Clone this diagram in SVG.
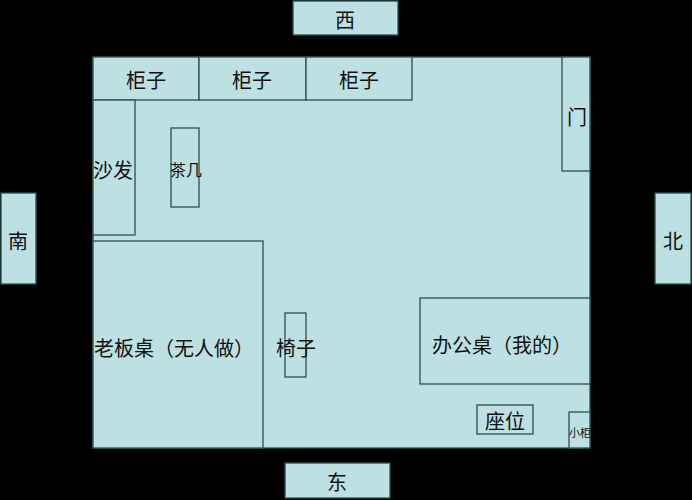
<svg xmlns="http://www.w3.org/2000/svg" width="692" height="500" viewBox="0 0 692 500">
<style>
rect{fill:#bde0e3;stroke:#2f4f4f;stroke-width:1.3}
text{font-family:"Noto Sans CJK SC","Noto Sans CJK TC",sans-serif;fill:#111;font-size:20px;text-anchor:middle;dominant-baseline:central}
</style>
<rect x="0" y="0" width="692" height="500" style="fill:#000;stroke:none"/>
<g id="west"><rect x="293" y="1" width="105" height="34"/><text x="345" y="19">西</text></g>
<g id="south"><rect x="1" y="193" width="35" height="91"/><text x="18" y="240">南</text></g>
<g id="north"><rect x="655" y="193" width="36" height="91"/><text x="673" y="240">北</text></g>
<g id="east"><rect x="285" y="463" width="105" height="35"/><text x="337" y="481">东</text></g>
<g id="room"><rect x="93" y="57" width="497" height="391"/></g>
<g id="cab1"><rect x="93" y="57" width="106" height="43"/><text x="146" y="79">柜子</text></g>
<g id="cab2"><rect x="199" y="57" width="107" height="43"/><text x="252" y="79">柜子</text></g>
<g id="cab3"><rect x="306" y="57" width="106" height="43"/><text x="359" y="79">柜子</text></g>
<g id="door"><rect x="562" y="57" width="28" height="114"/><text x="577" y="116">门</text></g>
<g id="sofa"><rect x="93" y="100" width="42" height="135"/><text x="113" y="169">沙发</text></g>
<g id="tea"><rect x="171" y="128" width="28" height="79"/><text x="186" y="169" style="font-size:16px">茶几</text></g>
<g id="boss"><rect x="93" y="241" width="170" height="207"/><text x="174" y="347">老板桌（无人做）</text></g>
<g id="chair"><rect x="285" y="313" width="21" height="64"/><text x="296" y="347">椅子</text></g>
<g id="desk"><rect x="420" y="298" width="170" height="86"/><text x="502" y="344">办公桌（我的）</text></g>
<g id="seat"><rect x="477" y="405" width="56" height="29"/><text x="505" y="420">座位</text></g>
<g id="smallcab"><rect x="569" y="412" width="21" height="36"/><text x="580" y="432" style="font-size:11px">小柜</text></g>
<g id="connectors"/>
</svg>
